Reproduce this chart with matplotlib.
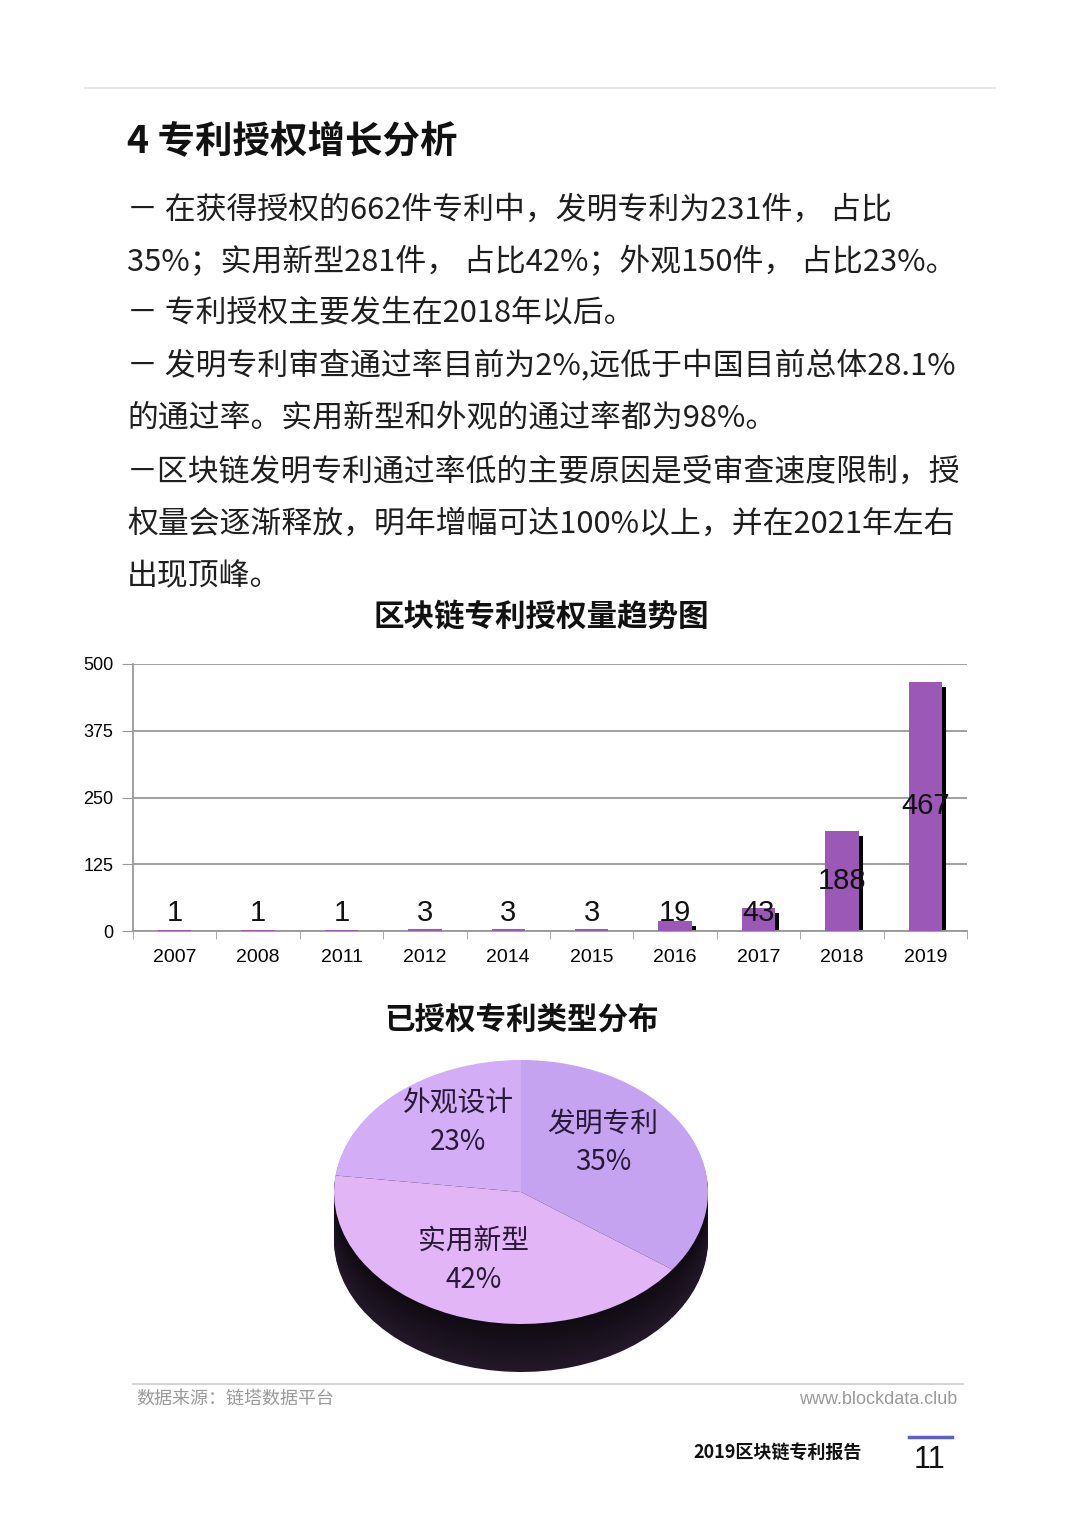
import matplotlib
matplotlib.use("Agg")
import matplotlib.pyplot as plt
import matplotlib.transforms as mtransforms
import numpy as np

plt.rcParams['font.family'] = ['Noto Sans CJK SC', 'DejaVu Sans']

# ---------------- data ----------------
years = ['2007', '2008', '2011', '2012', '2014', '2015', '2016', '2017', '2018', '2019']
grants = [1, 1, 1, 3, 3, 3, 19, 43, 188, 467]
yticks = [0, 125, 250, 375, 500]

pie_labels = ['发明专利', '实用新型', '外观设计']
pie_values = [35, 42, 23]

heading = '4 专利授权增长分析'
body_lines = [
    '－ 在获得授权的662件专利中，发明专利为231件， 占比',
    '35%；实用新型281件， 占比42%；外观150件， 占比23%。',
    '－ 专利授权主要发生在2018年以后。',
    '－ 发明专利审查通过率目前为2%,远低于中国目前总体28.1%',
    '的通过率。实用新型和外观的通过率都为98%。',
    '－区块链发明专利通过率低的主要原因是受审查速度限制，授',
    '权量会逐渐释放，明年增幅可达100%以上，并在2021年左右',
    '出现顶峰。',
]
bar_title = '区块链专利授权量趋势图'
pie_title = '已授权专利类型分布'
source_text = '数据来源：链塔数据平台'
site_text = 'www.blockdata.club'
report_text = '2019区块链专利报告'
page_no = '11'

W, H = 1080, 1527
fig = plt.figure(figsize=(W / 100, H / 100), dpi=100)
fig.patch.set_facecolor('white')


def fx(x):
    return x / W


def fy(y):
    return 1 - y / H


# top rule
fig.add_artist(plt.Line2D([fx(85), fx(995)], [fy(88), fy(88)], color='#e2e2e2', lw=1.2))

# heading
fig.text(fx(127), fy(142), heading, fontsize=27, fontweight='bold', color='#111111',
         ha='left', va='center')

# body
line_y = [210, 262, 314, 366, 418, 472, 524, 577]
for t, yy in zip(body_lines, line_y):
    fig.text(fx(127), fy(yy), t, fontsize=22.2, color='#1e1e1e', ha='left', va='center')

# ---------------- bar chart ----------------
fig.text(fx(541), fy(617), bar_title, fontsize=22, fontweight='bold', color='#111111',
         ha='center', va='center')

ax = fig.add_axes([fx(133), fy(931), (967 - 133) / W, (931 - 664) / H])
ax.set_facecolor('none')
x = np.arange(len(years))
narrow = ['Liberation Sans Narrow', 'Liberation Sans', 'DejaVu Sans']

shadow_tr = mtransforms.offset_copy(ax.transData, fig=fig, x=4, y=-5, units='dots')
ax.bar(x, grants, width=0.4, color='black', transform=shadow_tr, zorder=2)
ax.bar(x, grants, width=0.4, color='#9B58B6', zorder=3)

for xi, v in zip(x, grants):
    ax.text(xi, max(v / 2, 33), str(v), ha='center', va='center', fontsize=21,
            family=narrow, color='#111111', zorder=5)

ax.set_xlim(-0.5, len(years) - 0.5)
ax.set_ylim(0, 500)
ax.set_yticks(yticks)
ax.set_yticklabels([str(t) for t in yticks], family=narrow, fontsize=13)
ax.set_xticks(x)
ax.set_xticklabels(years, family=narrow, fontsize=14)
ax.set_xticks(np.arange(len(years) + 1) - 0.5, minor=True)
ax.tick_params(axis='x', which='major', length=0, pad=13)
ax.tick_params(axis='x', which='minor', length=6, color='#999999', direction='out')
ax.tick_params(axis='y', length=8, color='#999999', pad=6)
ax.yaxis.grid(True, color='#999999', lw=1.3)
ax.set_axisbelow(True)
for s in ['top', 'right']:
    ax.spines[s].set_visible(False)
for s in ['left', 'bottom']:
    ax.spines[s].set_color('#999999')
    ax.spines[s].set_linewidth(1.3)

# ---------------- pie chart ----------------
fig.text(fx(521), fy(1020), pie_title, fontsize=22, fontweight='bold', color='#111111',
         ha='center', va='center')

cx, cy, rx, ry, depth = 521, 1192, 187, 132, 48
pax = fig.add_axes([fx(cx - rx), fy(cy + ry + depth), 2 * rx / W, (2 * ry + depth) / H])
pax.set_facecolor('none')
pax.axis('off')
ratio = depth / ry  # depth in pie radius units
n_layers = 30
side_cols = plt.cm.colors.LinearSegmentedColormap.from_list('s', ['#0b070d', '#231829'])
for k in range(n_layers, 0, -1):
    off = -ratio * k / n_layers
    wedges, _ = pax.pie(pie_values, startangle=90, counterclock=False, radius=1,
                        center=(0, off), colors=[side_cols(0.2 + 0.8 * k / n_layers)] * 3)
    for w in wedges:
        w.set_edgecolor('none')

slice_cols = ['#C5A3F0', '#E2B6F6', '#D3AEF6']
wedges, _ = pax.pie(pie_values, startangle=90, counterclock=False, radius=1,
                    center=(0, 0), colors=slice_cols,
                    wedgeprops=dict(edgecolor='none'))
pax.set_aspect('auto')
pax.set_xlim(-1, 1)
pax.set_ylim(-1 - ratio, 1)

pie_text_pos = [(603, 1143), (474, 1261), (458, 1123)]
for lab, v, (tx, ty) in zip(pie_labels, pie_values, pie_text_pos):
    fig.text(fx(tx), fy(ty), f'{lab}\n{v}%', fontsize=20, color='#2a1838',
             ha='center', va='center', linespacing=1.35)

# ---------------- footer ----------------
fig.add_artist(plt.Line2D([fx(133), fx(963)], [fy(1384), fy(1384)], color='#cccccc', lw=1.2))
fig.text(fx(136), fy(1399), source_text, fontsize=13, color='#9a9a9a', ha='left', va='center')
fig.text(fx(957), fy(1399), site_text, fontsize=13, color='#9a9a9a', ha='right', va='center',
         family=['Liberation Sans', 'DejaVu Sans'])
fig.text(fx(862), fy(1453), report_text, fontsize=13, fontweight='bold', color='#111111',
         ha='right', va='center')
fig.add_artist(plt.Line2D([fx(909), fx(952)], [fy(1437), fy(1437)], color='#5b5fc7', lw=2.5))
fig.text(fx(930), fy(1460), page_no, fontsize=22, color='#111111', ha='center', va='center',
         family=narrow)

fig.savefig('out.png', dpi=100, facecolor='white')
